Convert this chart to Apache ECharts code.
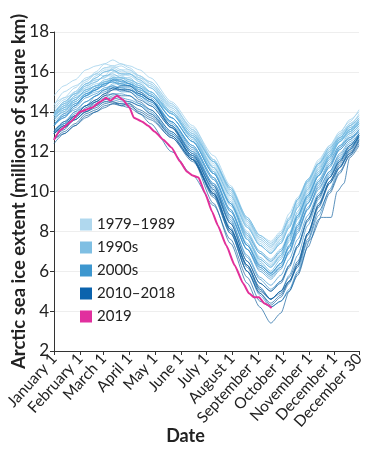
<!DOCTYPE html>
<html>
<head>
<meta charset="utf-8">
<script src="https://cdn.jsdelivr.net/npm/echarts@6/dist/echarts.min.js"></script>
<style>html,body{margin:0;padding:0;background:#fff}#c{width:370px;height:450px}</style>
</head>
<body>
<div id="c"></div>
<script>
// Day-of-year sample positions (0 = January 1)
const days = [0, 12, 25, 38, 50, 60, 70, 80, 90, 102, 115, 140, 165, 190, 210, 230, 245, 258, 270, 280, 290, 302, 315, 328, 340, 352, 363];

const tickDays = [0, 31, 59, 90, 120, 151, 181, 212, 243, 273, 304, 334, 363];
const tickLabels = ['January 1','February 1','March 1','April 1','May 1','June 1','July 1','August 1','September 1','October 1','November 1','December 1','December 30'];
const legendNames = ['1979–1989', '1990s', '2000s', '2010–2018', '2019'];

const years1980s = [1979,1980,1981,1982,1983,1984,1985,1986,1987,1988,1989];
const ext1980s = [
  [14.8,15.3,15.6,16.1,16.3,16.4,16.6,16.4,16.3,16.1,15.7,14.5,13.3,11.6,10.0,8.3,7.3,6.9,7.5,8.3,9.3,10.5,11.4,12.2,12.9,13.6,14.0],
  [14.4,14.7,15.2,15.7,15.9,16.2,16.2,16.0,16.0,15.8,15.4,14.3,13.2,11.8,10.3,8.7,7.8,7.5,8.0,8.9,9.7,10.6,11.6,12.3,13.0,13.5,14.1],
  [14.2,14.7,14.9,15.1,15.5,15.8,15.8,15.5,15.6,15.4,15.0,13.9,12.8,11.2,9.8,8.2,7.3,6.9,7.4,8.2,9.2,10.3,11.2,11.8,12.7,13.3,13.7],
  [14.0,14.4,15.0,15.6,15.9,15.8,16.2,16.3,16.1,15.7,15.5,14.4,13.1,11.6,10.2,8.6,7.6,7.2,7.8,8.6,9.6,10.4,11.5,12.3,12.9,13.3,13.9],
  [14.3,15.0,15.3,15.6,16.0,16.4,16.3,16.1,16.1,15.8,15.4,14.2,13.0,11.5,10.1,8.5,7.6,7.2,7.7,8.5,9.5,10.6,11.4,12.1,12.8,13.3,13.6],
  [13.9,14.2,14.7,15.2,15.4,15.5,15.8,15.8,15.6,15.2,15.0,13.9,12.7,11.1,9.6,7.9,6.9,6.4,6.9,7.9,8.8,9.8,10.9,11.8,12.5,13.0,13.4],
  [13.8,14.5,14.9,15.2,15.7,16.0,16.1,15.8,15.9,15.7,15.3,14.1,12.9,11.2,9.7,8.0,7.0,6.5,7.0,7.8,8.9,10.0,11.0,11.9,12.6,13.0,13.5],
  [13.9,14.3,14.8,15.4,15.6,15.7,16.0,16.1,15.9,15.5,15.3,14.3,13.1,11.6,10.2,8.5,7.5,7.1,7.6,8.3,9.4,10.4,11.3,12.1,12.8,13.4,13.8],
  [14.1,14.6,15.0,15.3,15.8,16.1,16.1,15.9,15.9,15.6,15.2,14.2,13.0,11.4,9.9,8.3,7.3,6.9,7.4,8.4,9.2,10.1,11.2,12.0,12.7,13.1,13.6],
  [13.8,14.3,15.0,15.5,15.9,16.2,16.3,16.4,16.2,15.8,15.5,14.4,13.1,11.5,10.0,8.4,7.4,7.0,7.6,8.3,9.4,10.5,11.3,12.1,12.8,13.4,13.8],
  [14.0,14.4,14.9,15.4,15.6,15.7,16.0,15.9,15.8,15.5,15.0,13.9,12.8,11.3,9.9,8.3,7.3,6.9,7.5,8.2,9.3,10.3,11.2,12.0,12.7,13.2,13.6]
];

const years1990s = [1990,1991,1992,1993,1994,1995,1996,1997,1998,1999];
const ext1990s = [
  [13.9,14.5,14.9,15.4,15.7,16.0,16.1,15.9,15.9,15.6,15.2,14.0,12.7,11.0,9.4,7.6,6.5,6.0,6.6,7.5,8.6,9.8,10.8,11.7,12.5,13.1,13.5],
  [13.8,14.1,14.6,15.0,15.3,15.5,15.6,15.6,15.4,15.1,14.8,13.7,12.5,10.9,9.4,7.7,6.7,6.3,6.8,7.7,8.7,9.7,10.8,11.8,12.5,13.1,13.6],
  [13.8,14.3,14.6,15.1,15.3,15.4,15.7,15.7,15.6,15.4,15.0,14.0,12.9,11.5,10.1,8.6,7.7,7.3,7.8,8.6,9.6,10.6,11.4,12.0,12.7,13.1,13.4],
  [13.8,14.2,14.8,15.3,15.5,15.8,15.9,15.7,15.7,15.3,15.0,13.9,12.6,11.0,9.4,7.6,6.6,6.2,6.8,7.8,8.8,9.9,10.9,11.8,12.6,13.3,13.7],
  [13.9,14.4,14.7,15.0,15.3,15.6,15.7,15.5,15.5,15.3,14.9,13.9,12.7,11.2,9.8,8.2,7.3,6.9,7.4,8.2,9.2,10.2,11.1,11.9,12.6,13.0,13.4],
  [13.7,14.0,14.5,14.9,15.1,15.4,15.5,15.3,15.3,14.9,14.6,13.5,12.3,10.7,9.1,7.4,6.4,5.9,6.4,7.3,8.4,9.6,10.6,11.5,12.3,12.9,13.3],
  [13.5,13.9,14.3,14.8,15.0,15.1,15.4,15.4,15.3,15.1,14.8,13.9,12.8,11.5,10.2,8.7,7.8,7.4,7.9,8.7,9.6,10.5,11.4,12.2,12.7,13.2,13.5],
  [13.7,14.2,14.5,14.9,15.2,15.5,15.6,15.4,15.4,15.2,14.8,13.7,12.5,10.9,9.5,7.9,7.0,6.6,7.1,7.9,9.0,10.1,11.0,11.7,12.5,12.9,13.3],
  [13.6,14.0,14.6,15.1,15.3,15.4,15.7,15.7,15.5,15.1,14.9,13.7,12.5,10.9,9.3,7.6,6.6,6.2,6.7,7.6,8.7,9.7,10.8,11.7,12.5,13.0,13.4],
  [13.6,14.1,14.4,14.8,15.1,15.4,15.5,15.3,15.3,14.9,14.6,13.5,12.2,10.6,9.0,7.3,6.2,5.8,6.3,7.2,8.3,9.5,10.5,11.3,12.2,12.8,13.2]
];

const years2000s = [2000,2001,2002,2003,2004,2005,2006,2007,2008,2009];
const ext2000s = [
  [13.4,13.7,14.2,14.7,14.9,15.2,15.3,15.1,15.1,14.8,14.5,13.5,12.3,10.7,9.1,7.3,6.3,5.9,6.4,7.3,8.3,9.4,10.5,11.4,12.2,12.7,13.1],
  [13.3,13.9,14.4,14.8,15.2,15.3,15.6,15.6,15.4,15.2,14.8,13.7,12.5,10.9,9.4,7.8,6.9,6.5,7.0,7.8,8.8,9.8,10.8,11.6,12.3,12.7,13.0],
  [13.4,13.8,14.3,14.8,15.1,15.4,15.5,15.4,15.3,14.9,14.6,13.4,12.1,10.4,8.8,7.1,6.0,5.6,6.1,7.0,8.1,9.1,10.3,11.3,12.1,12.6,13.1],
  [13.3,13.7,14.3,14.9,15.1,15.3,15.6,15.5,15.4,15.0,14.7,13.5,12.2,10.6,9.0,7.3,6.3,5.9,6.4,7.2,8.2,9.4,10.4,11.2,12.1,12.6,13.0],
  [13.3,13.8,14.1,14.5,14.8,15.1,15.2,15.0,15.0,14.7,14.3,13.2,12.0,10.4,8.8,7.1,6.1,5.7,6.2,7.0,8.0,9.2,10.2,11.0,11.9,12.5,12.9],
  [13.1,13.4,13.9,14.3,14.5,14.7,14.9,14.9,14.8,14.4,14.1,13.0,11.8,10.1,8.5,6.8,5.7,5.3,5.8,6.6,7.6,8.8,9.9,10.9,11.7,12.3,12.7],
  [12.9,13.3,13.6,14.0,14.3,14.5,14.6,14.5,14.5,14.3,13.9,12.9,11.8,10.2,8.7,7.1,6.2,5.8,6.2,6.9,7.9,9.1,10.1,11.0,11.8,12.4,12.8],
  [12.9,13.4,13.7,14.1,14.4,14.6,14.8,14.7,14.6,14.4,14.0,12.9,11.7,9.8,7.9,6.0,4.8,4.2,4.5,5.1,6.0,7.5,8.8,10.1,11.2,12.1,12.8],
  [13.0,13.4,14.0,14.5,14.8,15.1,15.3,15.2,15.2,14.8,14.5,13.3,11.9,10.0,8.2,6.3,5.1,4.6,5.0,5.8,6.8,8.3,9.6,10.7,11.6,12.3,12.9],
  [13.0,13.5,14.0,14.3,14.8,15.0,15.2,15.2,15.1,14.8,14.4,13.3,12.0,10.3,8.6,6.7,5.6,5.1,5.5,6.3,7.3,8.6,9.8,10.8,11.6,12.1,12.8]
];

const years2010s = [2010,2011,2012,2013,2014,2015,2017,2018];
const ext2010s = [
  [12.9,13.3,13.8,14.3,14.6,14.9,15.2,15.1,15.1,14.9,14.6,13.3,11.7,9.9,8.1,6.3,5.2,4.6,5.0,5.7,6.5,7.9,9.3,10.4,11.2,11.9,12.5],
  [12.6,13.2,13.6,14.0,14.3,14.6,14.7,14.6,14.5,14.3,13.9,12.8,11.6,9.7,7.9,6.0,4.9,4.3,4.7,5.4,6.3,7.9,9.3,10.5,11.4,12.1,12.8],
  [12.9,13.3,13.8,14.3,14.6,14.9,15.1,15.3,15.3,15.0,14.6,13.2,11.6,9.4,7.4,5.4,4.2,3.4,3.9,5.0,5.9,7.2,8.6,9.9,10.9,11.8,12.6],
  [12.7,13.1,13.7,14.2,14.5,14.8,15.1,15.1,15.0,14.6,14.3,13.2,11.9,10.3,8.4,6.5,5.4,5.0,5.5,6.3,7.3,8.6,9.8,10.7,11.5,12.2,12.8],
  [13.0,13.5,13.8,14.1,14.5,14.8,14.9,14.8,14.8,14.5,14.1,13.0,11.8,10.1,8.4,6.5,5.4,5.0,5.4,6.2,7.2,8.5,9.7,10.7,11.5,12.3,12.9],
  [12.9,13.2,13.6,14.0,14.2,14.5,14.5,14.4,14.4,14.1,13.8,12.8,11.6,9.8,8.0,6.0,4.9,4.4,4.8,5.5,6.4,7.9,9.4,10.5,11.3,11.9,12.6],
  [12.4,12.9,13.3,13.8,14.0,14.2,14.4,14.4,14.3,14.0,13.7,12.7,11.5,9.9,8.1,6.2,5.0,4.6,4.9,5.5,6.3,7.8,9.2,10.4,11.2,12.0,12.7],
  [12.6,12.9,13.3,13.7,14.0,14.3,14.4,14.3,14.2,13.9,13.6,12.7,11.6,9.9,8.1,6.3,5.1,4.6,5.0,5.5,6.2,7.6,9.0,10.0,11.0,11.8,12.4]
];

// 2016 has its November stall, so it is sampled on its own days
const days2016 = [0,12,25,38,50,60,70,80,90,102,115,140,165,190,210,230,245,258,270,280,290,305,318,330,337,345,352,363];
const ext2016 = [12.6,13.0,13.4,13.9,14.1,14.4,14.5,14.3,14.4,13.9,13.4,12.0,10.8,9.3,7.6,5.7,4.5,4.2,4.5,5.0,5.8,7.6,8.7,8.7,10.0,10.4,11.7,12.3];

const days2019 = [0,8,20,31,45,55,62,67,75,82,90,95,105,112,120,130,140,150,158,165,172,180,188,195,205,215,225,232,238,244,250,255,259];
const ext2019 = [12.6,13.1,13.5,14.0,14.2,14.5,14.7,14.55,14.8,14.6,14.2,13.7,13.5,13.3,13.0,12.6,12.2,11.5,11.0,10.8,10.7,9.9,9.0,8.3,7.3,6.3,5.4,4.9,4.7,4.7,4.4,4.3,4.15];

const lineColors = ['#a3d2ec', '#72b9e1', '#3a92cc', '#15639f', '#e2309a'];
const legendColors = ['#b0d8ee', '#7fbfe3', '#3d97cf', '#0b63ad', '#e12f9e'];

const series = [];
function addLine(name, groupIdx, xs, ys, width, opacity) {
  series.push({
    name: name,
    type: 'line',
    data: xs.map((d, i) => [d, ys[i]]),
    showSymbol: false,
    symbol: 'none',
    smooth: 0.25,
    smoothMonotone: 'x',
    silent: true,
    color: legendColors[groupIdx],
    itemStyle: { color: legendColors[groupIdx] },
    lineStyle: { width: width, color: lineColors[groupIdx], opacity: opacity },
    z: 2 + groupIdx
  });
}
ext1980s.forEach(v => addLine(legendNames[0], 0, days, v, 1, 0.8));
ext1990s.forEach(v => addLine(legendNames[1], 1, days, v, 1, 0.8));
ext2000s.forEach(v => addLine(legendNames[2], 2, days, v, 1, 0.7));
ext2010s.forEach((v, i) => {
  addLine(legendNames[3], 3, days, v, 1, 0.7);
  if (years2010s[i] === 2015) addLine(legendNames[3], 3, days2016, ext2016, 1, 0.7);
});
addLine(legendNames[4], 4, days2019, ext2019, 2, 1);
series[series.length - 1].smooth = 0.15;

const chart = echarts.init(document.getElementById('c'), null, { renderer: 'canvas' });
const font = 'Lato, "Open Sans", sans-serif';
chart.setOption({
  animation: false,
  backgroundColor: '#fff',
  textStyle: { fontFamily: font },
  grid: { left: 54, right: 11, top: 32, bottom: 99, containLabel: false, outerBoundsMode: 'none' },
  legend: {
    data: legendNames,
    orient: 'vertical',
    left: 80,
    top: 217,
    padding: 0,
    icon: 'rect',
    itemWidth: 12,
    itemHeight: 12,
    itemGap: 8,
    selectedMode: false,
    itemStyle: { opacity: 1 },
    textStyle: { fontSize: 15, color: '#222', fontFamily: font }
  },
  xAxis: {
    type: 'value',
    min: 0,
    max: 363,
    name: 'Date',
    nameLocation: 'middle',
    nameGap: 76,
    nameMoveOverlap: false,
    nameTextStyle: { fontSize: 18, fontWeight: 'bold', color: '#222', fontFamily: font, padding: [0, 42, 0, 0] },
    axisLine: { show: true, lineStyle: { color: '#333', width: 1 } },
    axisTick: { show: true, customValues: tickDays, length: 4, lineStyle: { color: '#333' } },
    axisLabel: {
      customValues: tickDays,
      formatter: v => { const i = tickDays.indexOf(v); return i >= 0 ? tickLabels[i] : ''; },
      rotate: 48,
      fontSize: 15.5,
      color: '#222',
      margin: 5,
      showMinLabel: true,
      showMaxLabel: true,
      hideOverlap: false,
      fontFamily: font
    },
    splitLine: { show: false }
  },
  yAxis: {
    type: 'value',
    min: 2,
    max: 18,
    interval: 2,
    name: 'Arctic sea ice extent (millions of square km)',
    nameLocation: 'middle',
    nameGap: 25,
    nameMoveOverlap: false,
    nameTextStyle: { fontSize: 18.5, fontWeight: 'bold', color: '#222', fontFamily: font },
    axisLine: { show: true, lineStyle: { color: '#333', width: 1 } },
    axisTick: { show: true, length: 4, lineStyle: { color: '#333' } },
    axisLabel: { fontSize: 17, color: '#222', margin: 5, fontFamily: font },
    splitLine: { show: true, lineStyle: { color: '#eeeeee', width: 1 } }
  },
  series: series
});
</script>
</body>
</html>
